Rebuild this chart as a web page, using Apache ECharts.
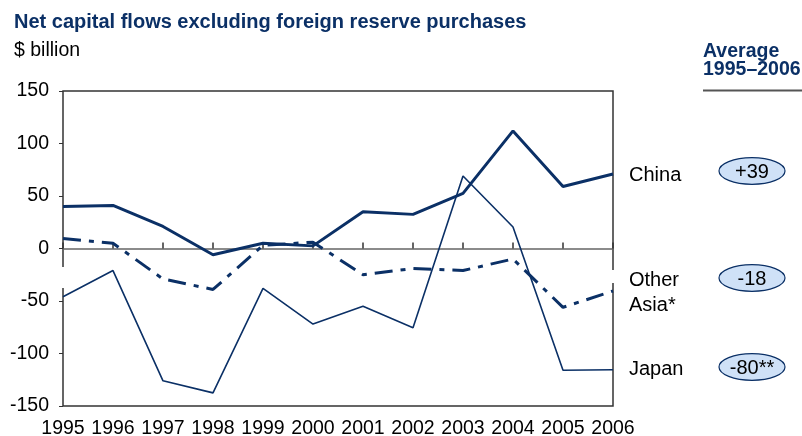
<!DOCTYPE html>
<html>
<head>
<meta charset="utf-8">
<script src="https://cdn.jsdelivr.net/npm/echarts@6/dist/echarts.min.js"></script>
<style>
html,body{margin:0;padding:0;background:#fff;}
#chart{width:802px;height:436px;}
</style>
</head>
<body>
<div id="chart"></div>
<script>
const years = ['1995','1996','1997','1998','1999','2000','2001','2002','2003','2004','2005','2006'];
const china = [40, 41, 21, -6, 5, 2.5, 35, 32.5, 52.5, 112, 59, 71];
const otherAsia = [9.5, 5, -29, -39, 3, 6, -25, -19, -21, -10, -56, -40.5];
const japan = [-46, -21, -126, -137.5, -38, -72, -55, -75.5, 69, 20.5, -116, -115.5];
const seriesNames = ['China', 'Other\nAsia*', 'Japan'];
const averages = ['+39', '-18', '-80**'];
const yTicks = {min: -150, max: 150, interval: 50};

const navy = '#0b3066';
const font = '"Liberation Sans", Arial, sans-serif';
const chart = echarts.init(document.getElementById('chart'));

const labelYs = [175, 293, 369];
const ovalYs = [171, 278, 367];
const graphics = [
  {type:'text', x:14, y:22.5, style:{text:'Net capital flows excluding foreign reserve purchases', font:'bold 20px '+font, fill:navy, verticalAlign:'middle'}},
  {type:'text', x:14, y:51, style:{text:'$ billion', font:'19.5px '+font, fill:'#000', verticalAlign:'middle'}},
  {type:'text', x:703, y:51.5, style:{text:'Average', font:'bold 19.5px '+font, fill:navy, verticalAlign:'middle'}},
  {type:'text', x:703, y:70, style:{text:'1995–2006', font:'bold 19.5px '+font, fill:navy, verticalAlign:'middle'}},
  {type:'line', shape:{x1:703, y1:90.5, x2:802, y2:90.5}, style:{stroke:'#555', lineWidth:2}},
  {type:'rect', z:10, shape:{x:61.5, y:267, width:3, height:21}, style:{fill:'#fff'}},
  {type:'rect', z:10, shape:{x:611.5, y:270, width:3, height:13}, style:{fill:'#fff'}}
];
seriesNames.forEach((n, i) => {
  graphics.push({type:'text', x:629, y:labelYs[i], style:{text:n, font:'20px '+font, fill:'#000', verticalAlign:'middle', lineHeight:25}});
  graphics.push({type:'ellipse', shape:{cx:752, cy:ovalYs[i], rx:33, ry:13.3}, style:{fill:'#cfe1f7', stroke:navy, lineWidth:1.2}});
  graphics.push({type:'text', x:752, y:ovalYs[i]+1, style:{text:averages[i], font:'20px '+font, fill:'#000', align:'center', verticalAlign:'middle'}});
});

chart.setOption({
  animation:false,
  backgroundColor:'#fff',
  grid:{left:63, right:189, top:91, bottom:30, show:true, borderColor:'#333', borderWidth:1.5, backgroundColor:'transparent', containLabel:false, outerBoundsMode:'none'},
  xAxis:[
    {type:'category', data:years, boundaryGap:false, position:'bottom',
     axisLine:{show:false}, axisTick:{show:false},
     axisLabel:{color:'#000', fontSize:19.5, fontFamily:font, margin:13, interval:0}},
    {type:'category', data:years, boundaryGap:false, position:'bottom',
     axisLine:{show:true, onZero:true, onZeroAxisIndex:0, lineStyle:{color:'#666', width:1.5}},
     axisTick:{show:true, inside:true, length:6, lineStyle:{color:'#333', width:1.5}},
     axisLabel:{show:false}, splitLine:{show:false}}
  ],
  yAxis:{type:'value', min:yTicks.min, max:yTicks.max, interval:yTicks.interval,
    axisLine:{show:false}, axisTick:{show:true, length:4, lineStyle:{color:'#333'}},
    splitLine:{show:false},
    axisLabel:{color:'#000', fontSize:19.5, fontFamily:font, margin:14}},
  series:[
    {name:'China', type:'line', data:china, symbol:'none', lineStyle:{color:navy, width:3}},
    {name:'Other Asia', type:'line', data:otherAsia, symbol:'none', lineStyle:{color:navy, width:3, type:[18,8,5,8]}},
    {name:'Japan', type:'line', data:japan, symbol:'none', lineStyle:{color:navy, width:1.6}}
  ],
  graphic:graphics
});
</script>
</body>
</html>
